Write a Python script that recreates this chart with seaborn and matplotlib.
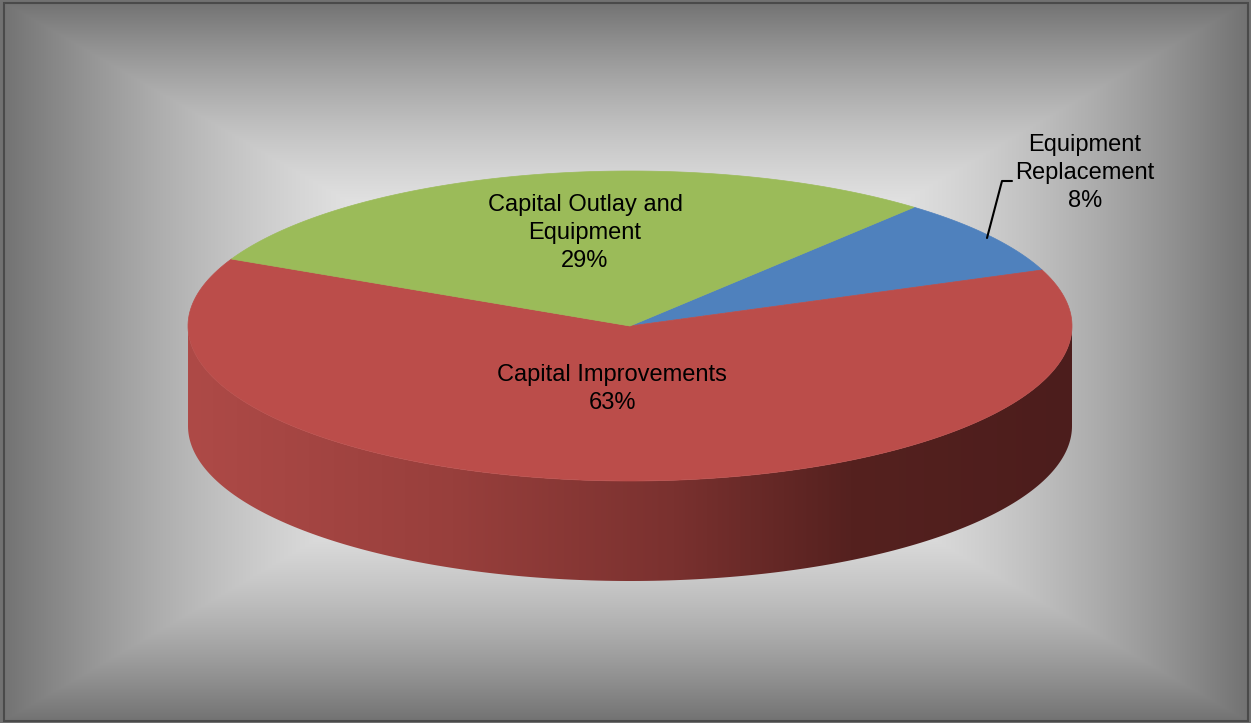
import numpy as np
import matplotlib
matplotlib.use("Agg")
from matplotlib import pyplot as plt
from matplotlib.patches import Polygon, Rectangle
import seaborn as sns

sns.set_style("white")
plt.rcParams['font.family'] = ['Liberation Sans', 'DejaVu Sans']

# slice data, in the order they go round clockwise
labels = ['Equipment\nReplacement', 'Capital Improvements', 'Capital Outlay and\nEquipment']
values = [8, 63, 29]
colors = ['#4F81BD', '#BB4D4A', '#9BBB59']
start_angle = 50  # degrees, where the first slice begins

W, H = 1251, 723
fig = plt.figure(figsize=(W / 100, H / 100), dpi=100)
ax = fig.add_axes([0, 0, 1, 1])
ax.set_xlim(0, W)
ax.set_ylim(H, 0)
ax.axis('off')

# rectangular "from centre" gradient background
yy, xx = np.mgrid[0:H, 0:W]
t = np.maximum(np.abs(xx - 625) / 625.0, np.abs(yy - 361) / 361.0)
v = (255 - 142 * t ** 1.9) / 255.0
ax.imshow(np.dstack([v, v, v]), extent=(0, W, H, 0), zorder=0, aspect='auto')
ax.add_patch(Rectangle((4, 3), 1244, 718, fill=False, ec='#4a4a4a', lw=1.5, zorder=10))

# pie geometry
cx, cy, rx, ry, depth = 630, 326, 442, 155, 100


def ell(th):
    th = np.radians(th)
    return cx + rx * np.cos(th), cy - ry * np.sin(th)


# side of the disc (front half), shaded left to right
th = np.linspace(180, 360, 200)
ex, ey = ell(th)
side = np.vstack([np.column_stack([ex, ey]), np.column_stack([ex[::-1], ey[::-1] + depth])])
side_patch = Polygon(side, closed=True, fc='none', ec='none', zorder=2)
ax.add_patch(side_patch)
gx = np.linspace(0, 1, 400)
stops_x = [0, 0.3, 0.55, 0.75, 1]
r = np.interp(gx, stops_x, [174, 152, 122, 85, 76]) / 255
g = np.interp(gx, stops_x, [74, 63, 49, 33, 29]) / 255
b = np.interp(gx, stops_x, [71, 60, 47, 31, 28]) / 255
grad = np.dstack([r, g, b])
im = ax.imshow(grad, extent=(cx - rx, cx + rx, cy + ry + depth, cy), aspect='auto', zorder=2)
im.set_clip_path(side_patch)

# top face wedges
angles = start_angle - np.concatenate([[0], np.cumsum(values)]) * 360 / sum(values)
for i, col in enumerate(colors):
    a = np.linspace(angles[i], angles[i + 1], 200)
    px, py = ell(a)
    pts = np.vstack([[cx, cy], np.column_stack([px, py])])
    ax.add_patch(Polygon(pts, closed=True, fc=col, ec=col, lw=0.5, zorder=3))

pct = [f'{p}%' for p in values]
fs = 17
kw = dict(ha='center', va='center', fontsize=fs, color='black', linespacing=1.33, zorder=5)
ax.text(1085, 173, f'{labels[0]}\n{pct[0]}', **kw)
ax.text(612, 389, f'{labels[1]}\n{pct[1]}', **kw)
ax.text(585, 233, f'{labels[2]}\n{pct[2]}', **kw)
ax.plot([987, 1002, 1012], [238, 181, 181], color='black', lw=1.5, zorder=5)

fig.savefig('out.png', dpi=100)
